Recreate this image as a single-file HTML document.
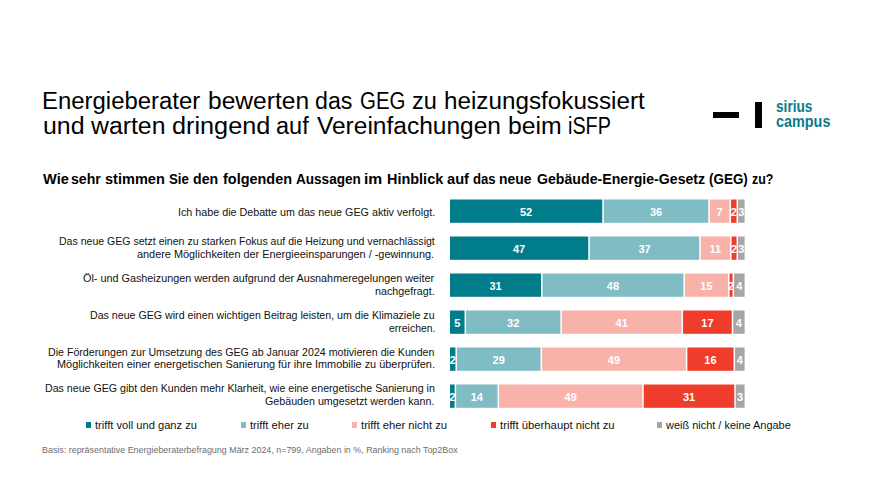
<!DOCTYPE html>
<html><head><meta charset="utf-8"><style>
html,body{margin:0;padding:0;background:#fff;width:872px;height:490px;overflow:hidden;position:relative}
.t{position:absolute;white-space:nowrap;font-family:"Liberation Sans", sans-serif;line-height:normal;transform-origin:0 0}
.seg{position:absolute;display:flex;align-items:center;justify-content:center}
.seg span{font-family:"Liberation Sans", sans-serif;font-weight:700;font-size:11.0px;color:#fff;line-height:1;white-space:nowrap;position:relative;top:1.4px}
.sq{position:absolute;width:5.3px;height:5.3px}
</style></head><body>
<div class="t" style="left:178.291px;top:205.71px;font-size:10.6px;font-weight:400;color:#111;transform-origin:0 9.59px;transform:scale(1.01313,1.0)">Ich habe die Debatte um das neue GEG aktiv verfolgt.</div><div class="t" style="left:58.906px;top:235.41px;font-size:10.6px;font-weight:400;color:#111;transform-origin:0 9.59px;transform:scale(0.99550,1.0)">Das neue GEG setzt einen zu starken Fokus auf die Heizung und vernachlässigt</div><div class="t" style="left:137.396px;top:248.31px;font-size:10.6px;font-weight:400;color:#111;transform-origin:0 9.59px;transform:scale(1.02713,1.0)">andere Möglichkeiten der Energieeinsparungen / -gewinnung.</div><div class="t" style="left:83.100px;top:272.01px;font-size:10.6px;font-weight:400;color:#111;transform-origin:0 9.59px;transform:scale(1.02096,1.0)">Öl- und Gasheizungen werden aufgrund der Ausnahmeregelungen weiter</div><div class="t" style="left:375.025px;top:285.01px;font-size:10.6px;font-weight:400;color:#111;transform-origin:0 9.59px;transform:scale(1.01290,1.0)">nachgefragt.</div><div class="t" style="left:90.195px;top:309.01px;font-size:10.6px;font-weight:400;color:#111;transform-origin:0 9.59px;transform:scale(1.00382,1.0)">Das neue GEG wird einen wichtigen Beitrag leisten, um die Klimaziele zu</div><div class="t" style="left:388.916px;top:322.01px;font-size:10.6px;font-weight:400;color:#111;transform-origin:0 9.59px;transform:scale(0.98638,1.0)">erreichen.</div><div class="t" style="left:48.299px;top:345.51px;font-size:10.6px;font-weight:400;color:#111;transform-origin:0 9.59px;transform:scale(1.00340,1.0)">Die Förderungen zur Umsetzung des GEG ab Januar 2024 motivieren die Kunden</div><div class="t" style="left:56.661px;top:358.41px;font-size:10.6px;font-weight:400;color:#111;transform-origin:0 9.59px;transform:scale(1.02851,1.0)">Möglichkeiten einer energetischen Sanierung für ihre Immobilie zu überprüfen.</div><div class="t" style="left:45.097px;top:382.31px;font-size:10.6px;font-weight:400;color:#111;transform-origin:0 9.59px;transform:scale(1.00286,1.0)">Das neue GEG gibt den Kunden mehr Klarheit, wie eine energetische Sanierung in</div><div class="t" style="left:264.800px;top:395.31px;font-size:10.6px;font-weight:400;color:#111;transform-origin:0 9.59px;transform:scale(1.00907,1.0)">Gebäuden umgesetzt werden kann.</div><div class="t" style="left:95.098px;top:419.11px;font-size:10.6px;font-weight:400;color:#111;transform-origin:0 9.59px;transform:scale(1.05168,1.0)">trifft voll und ganz zu</div><div class="t" style="left:250.128px;top:419.11px;font-size:10.6px;font-weight:400;color:#111;transform-origin:0 9.59px;transform:scale(1.05496,1.0)">trifft eher zu</div><div class="t" style="left:361.000px;top:419.11px;font-size:10.6px;font-weight:400;color:#111;transform-origin:0 9.59px;transform:scale(1.06219,1.0)">trifft eher nicht zu</div><div class="t" style="left:499.790px;top:419.11px;font-size:10.6px;font-weight:400;color:#111;transform-origin:0 9.59px;transform:scale(1.06568,1.0)">trifft überhaupt nicht zu</div><div class="t" style="left:665.795px;top:419.11px;font-size:10.6px;font-weight:400;color:#111;transform-origin:0 9.59px;transform:scale(1.03354,1.0)">weiß nicht / keine Angabe</div><div class="t" style="left:42.289px;top:444.64px;font-size:8.8px;font-weight:400;color:#6e6e6e;transform-origin:0 7.96px;transform:scale(1.01279,1.0)">Basis: repräsentative Energieberaterbefragung März 2024, n=799, Angaben in %, Ranking nach Top2Box</div><div class="t" style="left:775.977px;top:98.85px;font-size:14.2px;font-weight:700;color:#0a7b88;transform-origin:0 12.85px;transform:scale(0.96224,1.16)">sirius</div><div class="t" style="left:775.924px;top:113.55px;font-size:14.2px;font-weight:700;color:#0a7b88;transform-origin:0 12.85px;transform:scale(1.01477,1.16)">campus</div><div class="t" style="left:41.920px;top:88.28px;font-size:23.0px;font-weight:400;color:#000;transform-origin:0 20.82px;transform:scale(1.04000,1.0)">Energieberater</div><div class="t" style="left:207.920px;top:88.28px;font-size:23.0px;font-weight:400;color:#000;transform-origin:0 20.82px;transform:scale(1.06869,1.0)">bewerten</div><div class="t" style="left:314.973px;top:88.28px;font-size:23.0px;font-weight:400;color:#000;transform-origin:0 20.82px;transform:scale(1.00686,1.0)">das</div><div class="t" style="left:360.145px;top:88.28px;font-size:23.0px;font-weight:400;color:#000;transform-origin:0 20.82px;transform:scale(0.88893,1.0)">GEG</div><div class="t" style="left:411.853px;top:88.28px;font-size:23.0px;font-weight:400;color:#000;transform-origin:0 20.82px;transform:scale(1.02144,1.0)">zu</div><div class="t" style="left:443.925px;top:88.28px;font-size:23.0px;font-weight:400;color:#000;transform-origin:0 20.82px;transform:scale(1.05409,1.0)">heizungsfokussiert</div><div class="t" style="left:42.908px;top:113.19px;font-size:23.0px;font-weight:400;color:#000;transform-origin:0 20.82px;transform:scale(1.08333,1.0)">und</div><div class="t" style="left:90.994px;top:113.19px;font-size:23.0px;font-weight:400;color:#000;transform-origin:0 20.82px;transform:scale(1.07839,1.0)">warten</div><div class="t" style="left:171.902px;top:113.19px;font-size:23.0px;font-weight:400;color:#000;transform-origin:0 20.82px;transform:scale(1.09797,1.0)">dringend</div><div class="t" style="left:275.985px;top:113.19px;font-size:23.0px;font-weight:400;color:#000;transform-origin:0 20.82px;transform:scale(1.02158,1.0)">auf</div><div class="t" style="left:316.966px;top:113.19px;font-size:23.0px;font-weight:400;color:#000;transform-origin:0 20.82px;transform:scale(1.06554,1.0)">Vereinfachungen</div><div class="t" style="left:507.890px;top:113.19px;font-size:23.0px;font-weight:400;color:#000;transform-origin:0 20.82px;transform:scale(1.07764,1.0)">beim</div><div class="t" style="left:568.219px;top:113.19px;font-size:23.0px;font-weight:400;color:#000;transform-origin:0 20.82px;transform:scale(0.86047,1.0)">iSFP</div><div class="t" style="left:43.047px;top:171.05px;font-size:14.2px;font-weight:700;color:#000;transform-origin:0 12.85px;transform:scale(1.02742,1.0)">Wie</div><div class="t" style="left:70.922px;top:171.05px;font-size:14.2px;font-weight:700;color:#000;transform-origin:0 12.85px;transform:scale(0.99372,1.0)">sehr</div><div class="t" style="left:104.671px;top:171.05px;font-size:14.2px;font-weight:700;color:#000;transform-origin:0 12.85px;transform:scale(1.02475,1.0)">stimmen</div><div class="t" style="left:169.020px;top:171.05px;font-size:14.2px;font-weight:700;color:#000;transform-origin:0 12.85px;transform:scale(0.93408,1.0)">Sie</div><div class="t" style="left:193.387px;top:171.05px;font-size:14.2px;font-weight:700;color:#000;transform-origin:0 12.85px;transform:scale(0.99580,1.0)">den</div><div class="t" style="left:222.652px;top:171.05px;font-size:14.2px;font-weight:700;color:#000;transform-origin:0 12.85px;transform:scale(1.01881,1.0)">folgenden</div><div class="t" style="left:295.690px;top:171.05px;font-size:14.2px;font-weight:700;color:#000;transform-origin:0 12.85px;transform:scale(0.95584,1.0)">Aussagen</div><div class="t" style="left:363.723px;top:171.05px;font-size:14.2px;font-weight:700;color:#000;transform-origin:0 12.85px;transform:scale(1.10201,1.0)">im</div><div class="t" style="left:386.981px;top:171.05px;font-size:14.2px;font-weight:700;color:#000;transform-origin:0 12.85px;transform:scale(1.01852,1.0)">Hinblick</div><div class="t" style="left:446.671px;top:171.05px;font-size:14.2px;font-weight:700;color:#000;transform-origin:0 12.85px;transform:scale(1.03384,1.0)">auf</div><div class="t" style="left:473.010px;top:171.05px;font-size:14.2px;font-weight:700;color:#000;transform-origin:0 12.85px;transform:scale(0.92444,1.0)">das</div><div class="t" style="left:499.208px;top:171.05px;font-size:14.2px;font-weight:700;color:#000;transform-origin:0 12.85px;transform:scale(0.97970,1.0)">neue</div><div class="t" style="left:537.004px;top:171.05px;font-size:14.2px;font-weight:700;color:#000;transform-origin:0 12.85px;transform:scale(0.99654,1.0)">Gebäude-Energie-Gesetz</div><div class="t" style="left:709.052px;top:171.05px;font-size:14.2px;font-weight:700;color:#000;transform-origin:0 12.85px;transform:scale(0.94805,1.0)">(GEG)</div><div class="t" style="left:751.650px;top:171.05px;font-size:14.2px;font-weight:700;color:#000;transform-origin:0 12.85px;transform:scale(0.87343,1.0)">zu?</div><svg style="position:absolute;left:0;top:0" width="872" height="490" viewBox="0 0 872 490"><rect x="450.00" y="199.50" width="152.25" height="23.3" fill="#007c8a"/><rect x="603.75" y="199.50" width="104.50" height="23.3" fill="#80bcc4"/><rect x="709.75" y="199.50" width="19.80" height="23.3" fill="#f9b2aa"/><rect x="731.05" y="199.50" width="5.50" height="23.3" fill="#f03c2b"/><rect x="738.05" y="199.50" width="6.55" height="23.3" fill="#a6a6a6"/><rect x="450.00" y="236.50" width="138.25" height="23.3" fill="#007c8a"/><rect x="589.75" y="236.50" width="109.50" height="23.3" fill="#80bcc4"/><rect x="700.75" y="236.50" width="29.30" height="23.3" fill="#f9b2aa"/><rect x="731.55" y="236.50" width="5.00" height="23.3" fill="#f03c2b"/><rect x="738.05" y="236.50" width="6.55" height="23.3" fill="#a6a6a6"/><rect x="450.00" y="273.50" width="91.05" height="23.3" fill="#007c8a"/><rect x="542.55" y="273.50" width="140.90" height="23.3" fill="#80bcc4"/><rect x="684.95" y="273.50" width="43.10" height="23.3" fill="#f9b2aa"/><rect x="729.55" y="273.50" width="3.00" height="23.3" fill="#f03c2b"/><rect x="734.05" y="273.50" width="10.55" height="23.3" fill="#a6a6a6"/><rect x="450.00" y="310.50" width="14.55" height="23.3" fill="#007c8a"/><rect x="466.05" y="310.50" width="94.30" height="23.3" fill="#80bcc4"/><rect x="561.85" y="310.50" width="119.70" height="23.3" fill="#f9b2aa"/><rect x="683.05" y="310.50" width="48.70" height="23.3" fill="#f03c2b"/><rect x="733.25" y="310.50" width="11.35" height="23.3" fill="#a6a6a6"/><rect x="450.00" y="347.50" width="5.45" height="23.3" fill="#007c8a"/><rect x="456.95" y="347.50" width="83.60" height="23.3" fill="#80bcc4"/><rect x="542.05" y="347.50" width="143.80" height="23.3" fill="#f9b2aa"/><rect x="687.35" y="347.50" width="46.20" height="23.3" fill="#f03c2b"/><rect x="735.05" y="347.50" width="9.55" height="23.3" fill="#a6a6a6"/><rect x="450.00" y="384.50" width="4.65" height="23.3" fill="#007c8a"/><rect x="456.15" y="384.50" width="41.40" height="23.3" fill="#80bcc4"/><rect x="499.05" y="384.50" width="143.20" height="23.3" fill="#f9b2aa"/><rect x="643.75" y="384.50" width="90.50" height="23.3" fill="#f03c2b"/><rect x="735.75" y="384.50" width="8.85" height="23.3" fill="#a6a6a6"/></svg><div class="seg" style="left:450.00px;top:199.50px;width:152.25px;height:23.3px"><span>52</span></div><div class="seg" style="left:603.75px;top:199.50px;width:104.50px;height:23.3px"><span>36</span></div><div class="seg" style="left:709.75px;top:199.50px;width:19.80px;height:23.3px"><span>7</span></div><div class="seg" style="left:731.05px;top:199.50px;width:5.50px;height:23.3px"><span>2</span></div><div class="seg" style="left:738.05px;top:199.50px;width:6.55px;height:23.3px"><span>3</span></div><div class="seg" style="left:450.00px;top:236.50px;width:138.25px;height:23.3px"><span>47</span></div><div class="seg" style="left:589.75px;top:236.50px;width:109.50px;height:23.3px"><span>37</span></div><div class="seg" style="left:700.75px;top:236.50px;width:29.30px;height:23.3px"><span>11</span></div><div class="seg" style="left:731.55px;top:236.50px;width:5.00px;height:23.3px"><span>2</span></div><div class="seg" style="left:738.05px;top:236.50px;width:6.55px;height:23.3px"><span>3</span></div><div class="seg" style="left:450.00px;top:273.50px;width:91.05px;height:23.3px"><span>31</span></div><div class="seg" style="left:542.55px;top:273.50px;width:140.90px;height:23.3px"><span>48</span></div><div class="seg" style="left:684.95px;top:273.50px;width:43.10px;height:23.3px"><span>15</span></div><div class="seg" style="left:729.55px;top:273.50px;width:3.00px;height:23.3px"><span>2</span></div><div class="seg" style="left:734.05px;top:273.50px;width:10.55px;height:23.3px"><span>4</span></div><div class="seg" style="left:450.00px;top:310.50px;width:14.55px;height:23.3px"><span>5</span></div><div class="seg" style="left:466.05px;top:310.50px;width:94.30px;height:23.3px"><span>32</span></div><div class="seg" style="left:561.85px;top:310.50px;width:119.70px;height:23.3px"><span>41</span></div><div class="seg" style="left:683.05px;top:310.50px;width:48.70px;height:23.3px"><span>17</span></div><div class="seg" style="left:733.25px;top:310.50px;width:11.35px;height:23.3px"><span>4</span></div><div class="seg" style="left:450.00px;top:347.50px;width:5.45px;height:23.3px"><span>2</span></div><div class="seg" style="left:456.95px;top:347.50px;width:83.60px;height:23.3px"><span>29</span></div><div class="seg" style="left:542.05px;top:347.50px;width:143.80px;height:23.3px"><span>49</span></div><div class="seg" style="left:687.35px;top:347.50px;width:46.20px;height:23.3px"><span>16</span></div><div class="seg" style="left:735.05px;top:347.50px;width:9.55px;height:23.3px"><span>4</span></div><div class="seg" style="left:450.00px;top:384.50px;width:4.65px;height:23.3px"><span>2</span></div><div class="seg" style="left:456.15px;top:384.50px;width:41.40px;height:23.3px"><span>14</span></div><div class="seg" style="left:499.05px;top:384.50px;width:143.20px;height:23.3px"><span>49</span></div><div class="seg" style="left:643.75px;top:384.50px;width:90.50px;height:23.3px"><span>31</span></div><div class="seg" style="left:735.75px;top:384.50px;width:8.85px;height:23.3px"><span>3</span></div><div class="sq" style="left:85.8px;top:422.4px;background:#007c8a"></div><div class="sq" style="left:240.7px;top:422.4px;background:#80bcc4"></div><div class="sq" style="left:352.0px;top:422.4px;background:#f9b2aa"></div><div class="sq" style="left:490.5px;top:422.4px;background:#f03c2b"></div><div class="sq" style="left:657.1px;top:422.4px;background:#a6a6a6"></div><div style="position:absolute;left:713.3px;top:111.5px;width:25.9px;height:6.5px;background:#000"></div><div style="position:absolute;left:755.4px;top:101.7px;width:6.9px;height:26.1px;background:#000"></div>
</body></html>
